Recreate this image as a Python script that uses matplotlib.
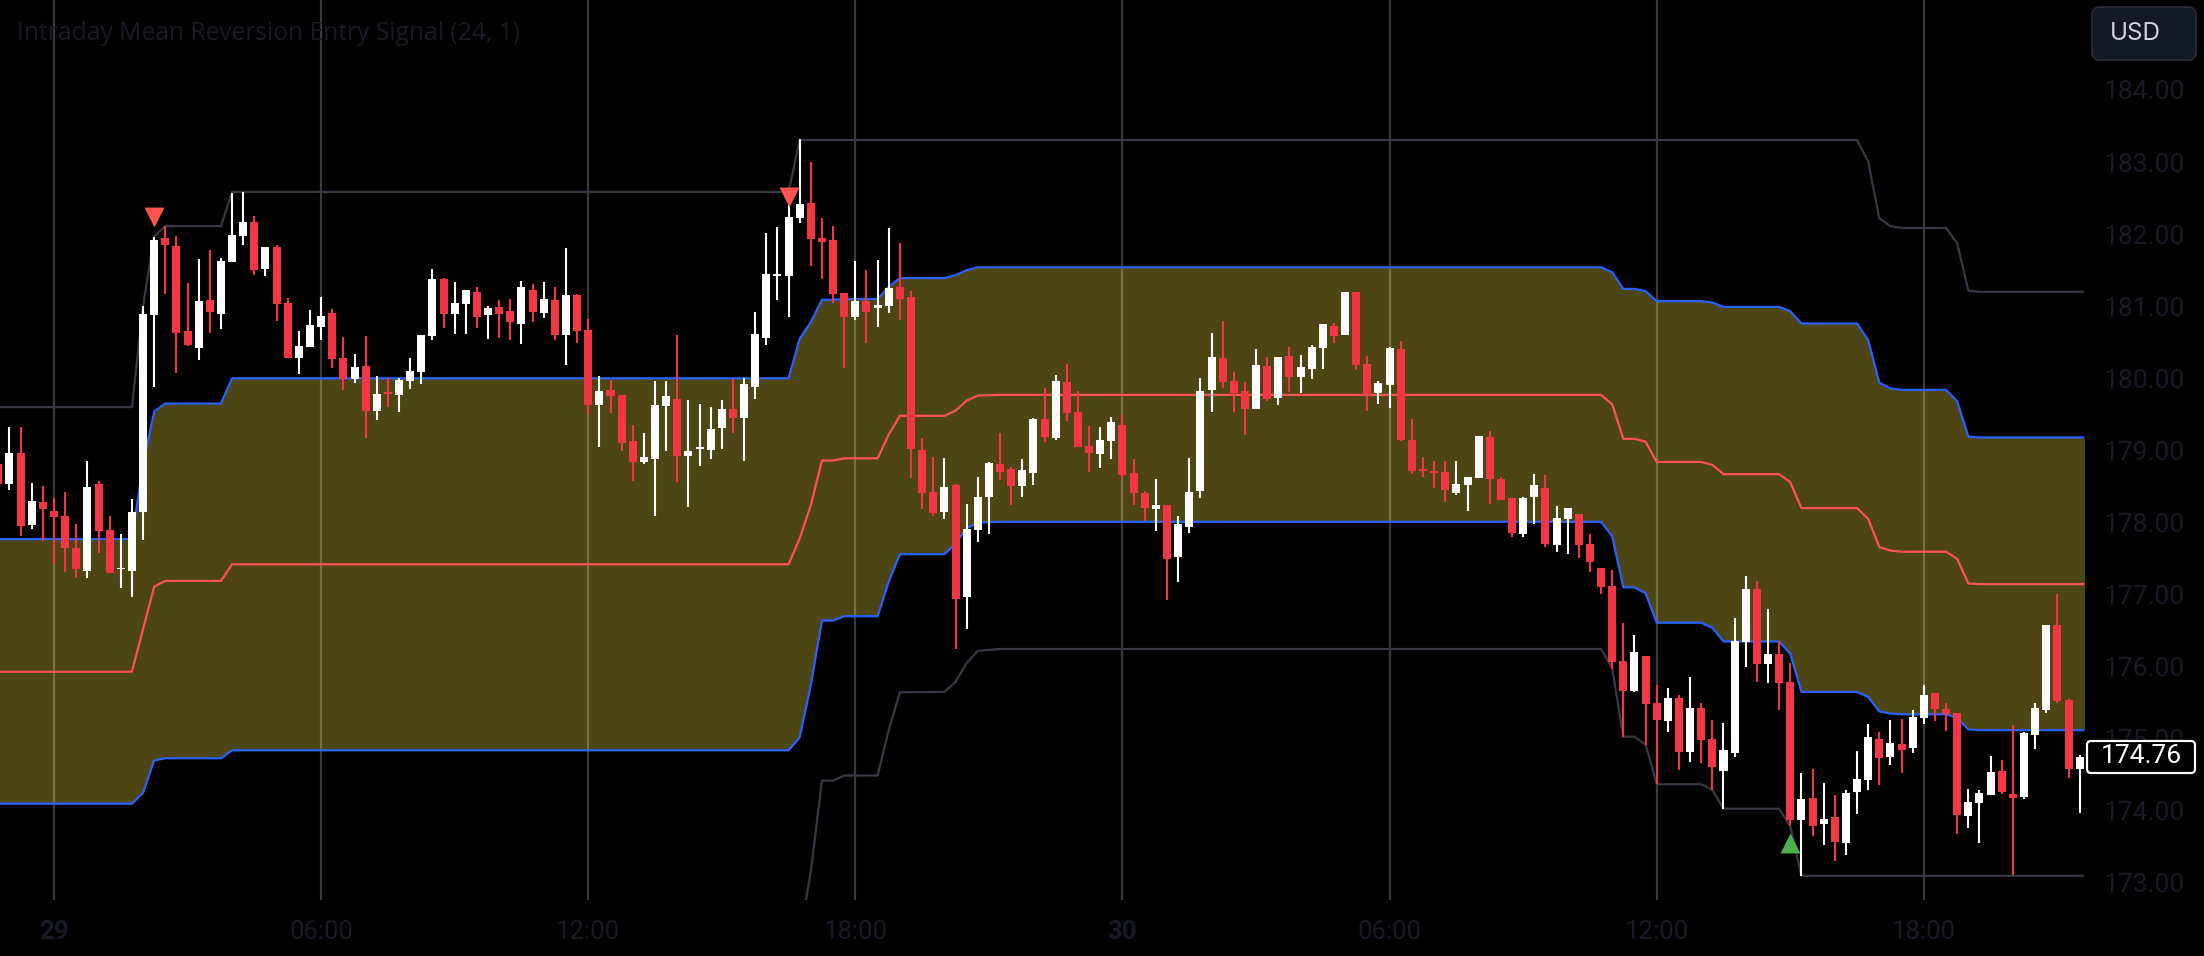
import numpy as np
import matplotlib
matplotlib.use("Agg")
import matplotlib.pyplot as plt
from matplotlib.patches import FancyBboxPatch
from matplotlib.transforms import blended_transform_factory

first_bar = -5
opens = [
 178.81,178.54,178.96,177.97,178.28,178.16,178.09,177.65,177.33,178.53,
 177.90,177.35,177.33,178.15,180.88,181.95,181.83,180.66,180.42,181.09,
 180.89,181.61,181.97,182.17,181.52,181.82,181.04,180.28,180.43,180.71,
 180.91,180.28,179.99,180.17,179.55,179.81,179.77,179.96,180.09,180.59,
 181.38,180.89,181.03,181.20,180.88,180.99,180.93,180.75,181.22,180.91,
 181.09,180.60,181.16,180.67,179.63,179.84,179.77,179.13,178.84,178.88,
 179.62,179.71,178.92,179.02,179.00,179.31,179.57,179.45,179.88,180.56,
 181.42,181.42,182.22,182.43,181.95,181.92,181.18,180.85,181.07,180.97,
 181.00,181.27,181.13,179.00,178.42,178.15,178.52,176.97,177.90,178.35,
 178.81,178.74,178.51,178.69,179.44,179.17,179.95,179.53,179.06,178.95,
 179.13,179.35,178.69,178.41,178.19,178.24,177.52,177.94,178.44,179.84,
 180.28,179.96,179.82,179.58,180.17,179.73,180.31,180.02,180.13,180.42,
 180.73,180.60,181.20,180.20,179.80,179.91,180.41,179.15,178.74,178.72,
 178.70,178.41,178.52,178.62,179.19,178.60,178.34,177.84,178.35,178.48,
 177.69,178.05,178.12,177.70,177.37,177.12,176.08,175.66,176.15,175.50,
 175.25,175.57,174.82,175.43,175.00,174.55,174.80,176.34,177.08,176.04,
 176.18,175.79,173.87,174.18,173.82,173.92,173.55,174.26,174.43,175.00,
 174.75,174.93,174.87,175.29,175.63,175.41,175.36,173.93,174.11,174.22,
 174.55,174.23,174.19,175.05,175.40,176.58,175.54,174.58]
closes = [
 178.54,178.96,177.95,178.30,178.19,178.08,177.65,177.36,178.49,177.88,
 177.30,177.37,178.15,180.89,181.92,181.85,180.63,180.46,181.07,180.92,
 181.63,181.99,182.17,181.50,181.82,181.03,180.28,180.45,180.74,180.86,
 180.27,179.99,180.16,179.55,179.78,179.78,179.98,180.10,180.60,181.38,
 180.89,181.04,181.22,180.85,180.97,180.89,180.78,181.27,180.92,181.10,
 180.60,181.16,180.66,179.63,179.82,179.75,179.10,178.84,178.91,179.63,
 179.75,178.92,178.99,179.05,179.30,179.57,179.45,179.92,180.61,181.45,
 181.45,182.24,182.42,181.93,181.89,181.17,180.85,181.07,180.92,181.02,
 181.25,181.10,179.02,178.41,178.13,178.49,176.94,177.91,178.35,178.83,
 178.70,178.51,178.73,179.44,179.19,179.96,179.52,179.05,178.96,179.15,
 179.39,178.66,178.41,178.20,178.24,177.49,177.98,178.42,179.82,180.30,
 179.95,179.79,179.58,180.19,179.71,180.30,180.02,180.16,180.44,180.75,
 180.59,181.20,180.19,179.77,179.94,180.42,179.15,178.72,178.72,178.69,
 178.45,178.53,178.63,179.20,178.60,178.31,177.86,178.34,178.52,177.70,
 178.06,178.20,177.69,177.45,177.11,176.07,175.66,176.20,175.48,175.26,
 175.57,174.82,175.43,174.98,174.61,174.84,176.36,177.08,176.04,176.18,
 175.77,173.87,174.17,173.79,173.89,173.57,174.25,174.44,175.03,174.73,
 174.94,174.84,175.30,175.61,175.41,175.34,173.94,174.12,174.25,174.54,
 174.26,174.18,175.08,175.43,176.58,175.52,174.58,174.75]
highs = [
 179.01,179.32,179.32,178.55,178.51,178.34,178.42,177.98,178.85,178.58,
 178.09,177.84,178.33,181.00,181.96,182.11,181.97,181.32,181.65,181.78,
 181.67,182.57,182.58,182.25,181.82,181.85,181.11,180.66,180.95,181.13,
 180.96,180.57,180.34,180.59,180.03,180.00,180.00,180.28,180.60,181.52,
 181.39,181.34,181.22,181.27,181.00,181.09,181.10,181.35,181.31,181.34,
 181.27,181.81,181.17,180.82,180.03,179.98,179.77,179.35,179.24,179.96,
 179.96,180.60,179.70,179.64,179.60,179.70,179.99,180.00,180.92,182.01,
 182.10,182.40,183.32,183.00,182.22,182.11,181.18,181.63,181.50,181.64,
 182.08,181.88,181.21,179.17,178.91,178.89,178.53,178.26,178.63,178.84,
 179.24,178.77,178.88,179.45,179.87,180.05,180.20,179.82,179.34,179.33,
 179.46,179.49,178.88,178.44,178.60,178.24,178.09,178.90,180.00,180.63,
 180.80,180.09,179.95,180.41,180.30,180.30,180.44,180.32,180.46,180.75,
 180.77,181.20,181.20,180.31,179.96,180.44,180.52,179.44,178.91,178.85,
 178.85,178.85,178.63,179.20,179.27,178.63,178.34,178.35,178.67,178.66,
 178.23,178.20,178.12,177.84,177.37,177.34,176.61,176.44,176.15,175.75,
 175.70,175.61,175.86,175.50,175.26,175.22,176.68,177.26,177.19,176.80,
 176.36,176.05,174.53,174.58,174.39,174.22,174.29,174.83,175.21,175.09,
 175.26,175.27,175.40,175.75,175.63,175.50,175.36,174.30,174.29,174.76,
 174.71,175.19,175.09,175.50,176.58,177.01,175.55,174.78]
lows = [
 178.45,178.45,177.81,177.91,177.75,177.43,177.32,177.23,177.23,177.58,
 177.30,177.09,176.97,177.76,179.88,181.17,180.07,180.45,180.25,180.63,
 180.68,181.61,181.85,181.43,181.42,180.79,180.28,180.06,180.43,180.53,
 180.14,179.84,179.93,179.17,179.42,179.60,179.53,179.85,179.92,180.53,
 180.70,180.61,180.61,180.70,180.54,180.56,180.53,180.48,180.78,180.84,
 180.53,180.18,180.49,179.50,179.05,179.52,178.99,178.58,178.81,178.09,
 178.99,178.56,178.21,178.78,178.88,179.02,179.24,178.85,179.71,180.46,
 181.09,180.85,182.15,181.56,181.38,181.04,180.14,180.81,180.49,180.71,
 180.91,180.81,178.62,178.19,178.09,178.05,176.25,176.52,177.73,177.84,
 178.59,178.24,178.35,178.52,179.12,179.15,179.41,179.05,178.70,178.76,
 178.88,178.62,178.24,178.02,177.88,176.93,177.18,177.86,178.34,179.53,
 179.87,179.53,179.21,179.58,179.69,179.63,179.81,179.80,179.99,180.13,
 180.49,180.60,180.12,179.55,179.64,179.59,179.13,178.67,178.63,178.48,
 178.29,178.38,178.16,178.62,178.26,178.31,177.80,177.80,177.98,177.66,
 177.59,177.56,177.51,177.31,177.01,175.97,175.03,175.65,174.91,174.37,
 175.09,174.57,174.68,174.66,174.29,174.03,174.75,176.00,175.79,175.77,
 175.40,173.79,173.10,173.65,173.53,173.31,173.39,173.96,174.29,174.36,
 174.64,174.53,174.80,175.21,175.25,175.11,173.68,173.76,173.55,174.22,
 174.23,173.11,174.17,174.86,175.36,175.50,174.46,173.97]

band_bars = [-6,7,8,9,10,15,16,66,67,68,69,70,71,74,75,76,80,81,82,83,85,139,140,141,142,
             143,144,148,149,150,155,156,157,162,163,164,165,166,170,171,172,173,183]
outer_upper = [179.60,179.60,181.00,181.97,182.11,182.11,182.585,182.585,183.305,183.305,
               183.305,183.305,183.305,183.305,183.305,183.305,183.305,183.305,183.305,183.305,
               183.305,183.305,183.305,183.305,183.305,183.305,183.305,183.305,183.305,183.305,
               183.305,183.305,183.305,183.305,183.005,182.22,182.11,182.085,182.085,181.87,
               181.215,181.20,181.20]
inner_upper = [177.77,177.77,178.80,179.54,179.65,179.65,180.00,180.00,180.55,180.78,
               181.09,181.09,181.10,181.10,181.27,181.39,181.39,181.43,181.50,181.54,
               181.54,181.54,181.47,181.24,181.24,181.21,181.07,181.07,181.05,180.99,
               180.99,180.93,180.76,180.76,180.53,179.94,179.86,179.84,179.84,179.68,
               179.19,179.18,179.18]
mean_line = [175.93,175.93,176.52,177.11,177.19,177.19,177.42,177.42,177.78,178.24,
             178.86,178.86,178.89,178.89,179.22,179.48,179.48,179.55,179.69,179.76,
             179.77,179.77,179.64,179.16,179.16,179.12,178.84,178.84,178.80,178.67,
             178.67,178.56,178.20,178.20,178.05,177.66,177.61,177.595,177.595,177.495,
             177.155,177.145,177.145]
inner_lower = [174.10,174.10,174.25,174.70,174.73,174.73,174.84,174.84,175.02,175.75,
               176.64,176.64,176.70,176.70,177.18,177.56,177.56,177.71,177.92,178.00,
               178.01,178.01,177.81,177.10,177.10,177.02,176.61,176.61,176.54,176.35,
               176.35,176.18,175.65,175.65,175.58,175.38,175.35,175.34,175.34,175.29,
               175.13,175.12,175.12]
outer_lower = [172.25,172.25,172.25,172.25,172.25,172.25,172.25,172.25,172.25,173.16,
               174.42,174.42,174.49,174.49,175.12,175.645,175.65,175.79,176.05,176.22,
               176.245,176.245,175.98,175.03,175.03,174.92,174.37,174.37,174.29,174.03,
               174.03,173.79,173.10,173.10,173.10,173.10,173.10,173.10,173.10,173.10,
               173.10,173.10,173.10]

sell_bars = [9, 66]
sell_prices = [182.24, 182.52]
buy_bars = [156]
buy_prices = [173.55]

price_ticks = [173,174,175,176,177,178,179,180,181,182,183,184]
time_ticks = [0,24,48,72,96,120,144,168]
time_labels = ["29","06:00","12:00","18:00","30","06:00","12:00","18:00"]
last_price = 174.76
title = "Intraday Mean Reversion Entry Signal (24, 1)"

W, H = 2204, 956
fig = plt.figure(figsize=(W/100, H/100), dpi=100, facecolor="black")
ax = fig.add_axes([0, (H-900)/H, 2084/W, 900/H], facecolor="black")
ax.set_xlim(-4.852, 182.39)
ax.set_ylim(172.764, 185.247)
for s in ax.spines.values():
    s.set_visible(False)

dim = "#181b26"
ax.yaxis.tick_right()
ax.set_yticks(price_ticks)
ax.set_yticklabels([f"{p:.2f}" for p in price_ticks])
ax.set_xticks(time_ticks)
ax.set_xticklabels(time_labels)
ax.tick_params(axis="y", length=0, pad=14.5, labelsize=19, labelcolor=dim)
ax.tick_params(axis="x", length=0, pad=14.5, labelsize=18.5, labelcolor=dim)
for l in ax.get_xticklabels() + ax.get_yticklabels():
    l.set_family("Roboto")
for k, l in enumerate(ax.get_xticklabels()):
    if time_labels[k] in ("29", "30"):
        l.set_fontweight("bold")

ax.fill_between(band_bars, inner_lower, inner_upper, color="#4d4513", lw=0, zorder=1)
for t in time_ticks:
    ax.axvline(t, color="white", alpha=0.23, lw=1.6, zorder=2)

ax.plot(band_bars, outer_upper, color="#363a45", lw=1.6, zorder=3)
ax.plot(band_bars, outer_lower, color="#363a45", lw=1.6, zorder=3)
ax.plot(band_bars, inner_upper, color="#2962ff", lw=1.6, zorder=3)
ax.plot(band_bars, inner_lower, color="#2962ff", lw=1.6, zorder=3)
ax.plot(band_bars, mean_line, color="#ff5252", lw=1.6, zorder=3)

o, c, hi, lo = map(np.array, (opens, closes, highs, lows))
idx = np.arange(first_bar, first_bar + len(o))
cols = np.where(c >= o, "#ffffff", "#f23645")
ax.vlines(idx, lo, hi, colors=cols, lw=1.5, zorder=4)
ax.bar(idx, np.abs(c - o), bottom=np.minimum(o, c), width=0.72, color=cols, lw=0, zorder=4.1)

ax.scatter(sell_bars, sell_prices, marker="v", s=205, color="#ff5252", lw=0, zorder=5)
ax.scatter(buy_bars, buy_prices, marker="^", s=205, color="#4caf50", lw=0, zorder=5)

fig.text(17/W, 1-33/H, title, family="Open Sans", fontsize=17.7, color=dim, va="center", ha="left")

usd = FancyBboxPatch((2098/W, 1-54/H), 92/W, 41/H, transform=fig.transFigure,
                     boxstyle="round", fc="#141823", ec="#2a2e39", lw=1.2, zorder=5)
usd.set_boxstyle("round", pad=6/W, rounding_size=8/W)
usd.set_mutation_aspect(W/H)
fig.add_artist(usd)
fig.text(2110/W, 1-34/H, "USD", family="Inter", fontsize=17.5, color="#d1d4dc", va="center", ha="left", zorder=6)

tag_tr = blended_transform_factory(fig.transFigure, ax.transData)
tag = FancyBboxPatch((2091/W, 1-769/H), 100/W, 24/H, transform=fig.transFigure,
                     boxstyle="round", fc="black", ec="white", lw=1.6, zorder=5)
tag.set_boxstyle("round", pad=4/W, rounding_size=4/W)
tag.set_mutation_aspect(W/H)
fig.add_artist(tag)
fig.text(2141/W, last_price, f"{last_price:.2f}", transform=tag_tr, family="Roboto", fontsize=19,
         color="white", va="center", ha="center", zorder=6)

fig.savefig("out.png", dpi=100, facecolor="black")
